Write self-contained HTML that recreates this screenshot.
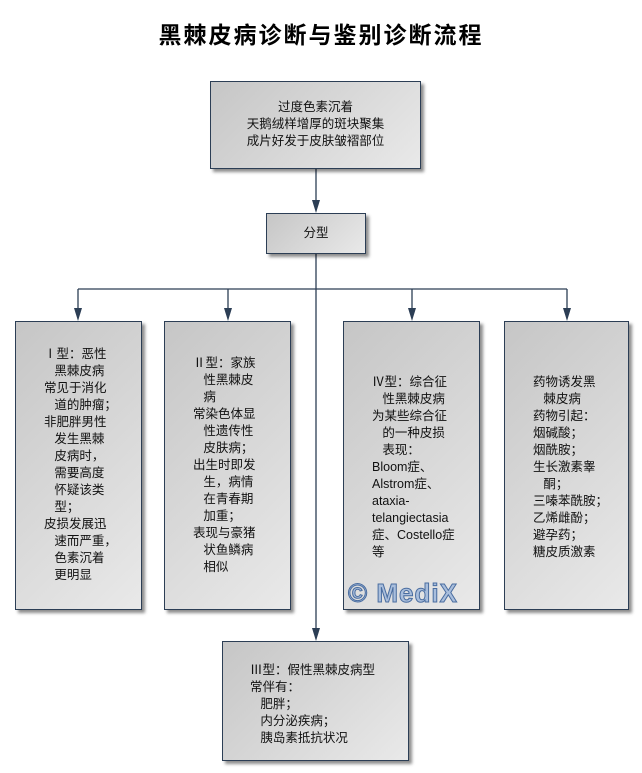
<!DOCTYPE html>
<html><head><meta charset="utf-8"><style>
body{margin:0;width:642px;height:773px;background:#fff;position:relative;overflow:hidden;font-family:"Liberation Sans","Noto Sans CJK SC","WenQuanYi Zen Hei",sans-serif;}
.b{position:absolute;border:1px solid #2c3e55;background:linear-gradient(135deg,#c6c6c6,#e9e9e9);box-shadow:3px 3px 3px rgba(0,0,0,0.45);box-sizing:border-box;}
.t{position:absolute;font-size:12.5px;line-height:17px;color:#111;white-space:pre;}
.title{position:absolute;left:0;width:642px;top:16px;text-align:center;font-size:23px;font-weight:bold;font-family:"Noto Sans CJK SC",sans-serif;letter-spacing:2px;}
</style></head><body>
<div class="title">黑棘皮病诊断与鉴别诊断流程</div>
<svg width="642" height="773" style="position:absolute;left:0;top:0">
<g stroke="#2c3e55" stroke-width="1.3" fill="none">
<line x1="316" y1="168" x2="316" y2="206"/>
<line x1="316" y1="253" x2="316" y2="634"/>
<line x1="78" y1="289" x2="567" y2="289"/>
<line x1="78" y1="289" x2="78" y2="314"/>
<line x1="228" y1="289" x2="228" y2="314"/>
<line x1="412" y1="289" x2="412" y2="314"/>
<line x1="567" y1="289" x2="567" y2="314"/>
</g>
<g fill="#2c3e55">
<polygon points="312,200 320,200 316,213"/>
<polygon points="74,308 82,308 78,321"/>
<polygon points="224,308 232,308 228,321"/>
<polygon points="408,308 416,308 412,321"/>
<polygon points="563,308 571,308 567,321"/>
<polygon points="312,628 320,628 316,641"/>
</g>
</svg>
<div class="b" style="left:210px;top:81px;width:211px;height:88px"></div>
<div class="t" style="left:210px;width:211px;top:99px;text-align:center">过度色素沉着
天鹅绒样增厚的斑块聚集
成片好发于皮肤皱褶部位</div>
<div class="b" style="left:266px;top:213px;width:100px;height:41px"></div>
<div class="t" style="left:266px;width:100px;top:225px;text-align:center">分型</div>

<div class="b" style="left:15px;top:321px;width:127px;height:289px"></div>
<div class="t" style="left:44px;top:346px">Ⅰ型：恶性
   黑棘皮病
常见于消化
   道的肿瘤；
非肥胖男性
   发生黑棘
   皮病时，
   需要高度
   怀疑该类
   型；
皮损发展迅
   速而严重，
   色素沉着
   更明显</div>

<div class="b" style="left:164px;top:321px;width:127px;height:289px"></div>
<div class="t" style="left:193px;top:355px">Ⅱ型：家族
   性黑棘皮
   病
常染色体显
   性遗传性
   皮肤病；
出生时即发
   生，病情
   在青春期
   加重；
表现与豪猪
   状鱼鳞病
   相似</div>

<div class="b" style="left:343px;top:321px;width:137px;height:289px"></div>
<div class="t" style="left:372px;top:374px">Ⅳ型：综合征
   性黑棘皮病
为某些综合征
   的一种皮损
   表现：
Bloom症、
Alstrom症、
ataxia-
telangiectasia
症、Costello症
等</div>
<div style="position:absolute;left:348px;top:578px;font-size:26px;font-weight:bold;color:#a9bedc;-webkit-text-stroke:1px #4a6da0;font-family:'Liberation Sans',sans-serif;letter-spacing:1px">© MediX</div>

<div class="b" style="left:504px;top:321px;width:125px;height:289px"></div>
<div class="t" style="left:533px;top:374px">药物诱发黑
   棘皮病
药物引起：
烟碱酸；
烟酰胺；
生长激素睾
   酮；
三嗪苯酰胺；
乙烯雌酚；
避孕药；
糖皮质激素</div>

<div class="b" style="left:222px;top:641px;width:187px;height:120px"></div>
<div class="t" style="left:250px;top:662px">Ⅲ型：假性黑棘皮病型
常伴有：
   肥胖；
   内分泌疾病；
   胰岛素抵抗状况</div>
</body></html>
